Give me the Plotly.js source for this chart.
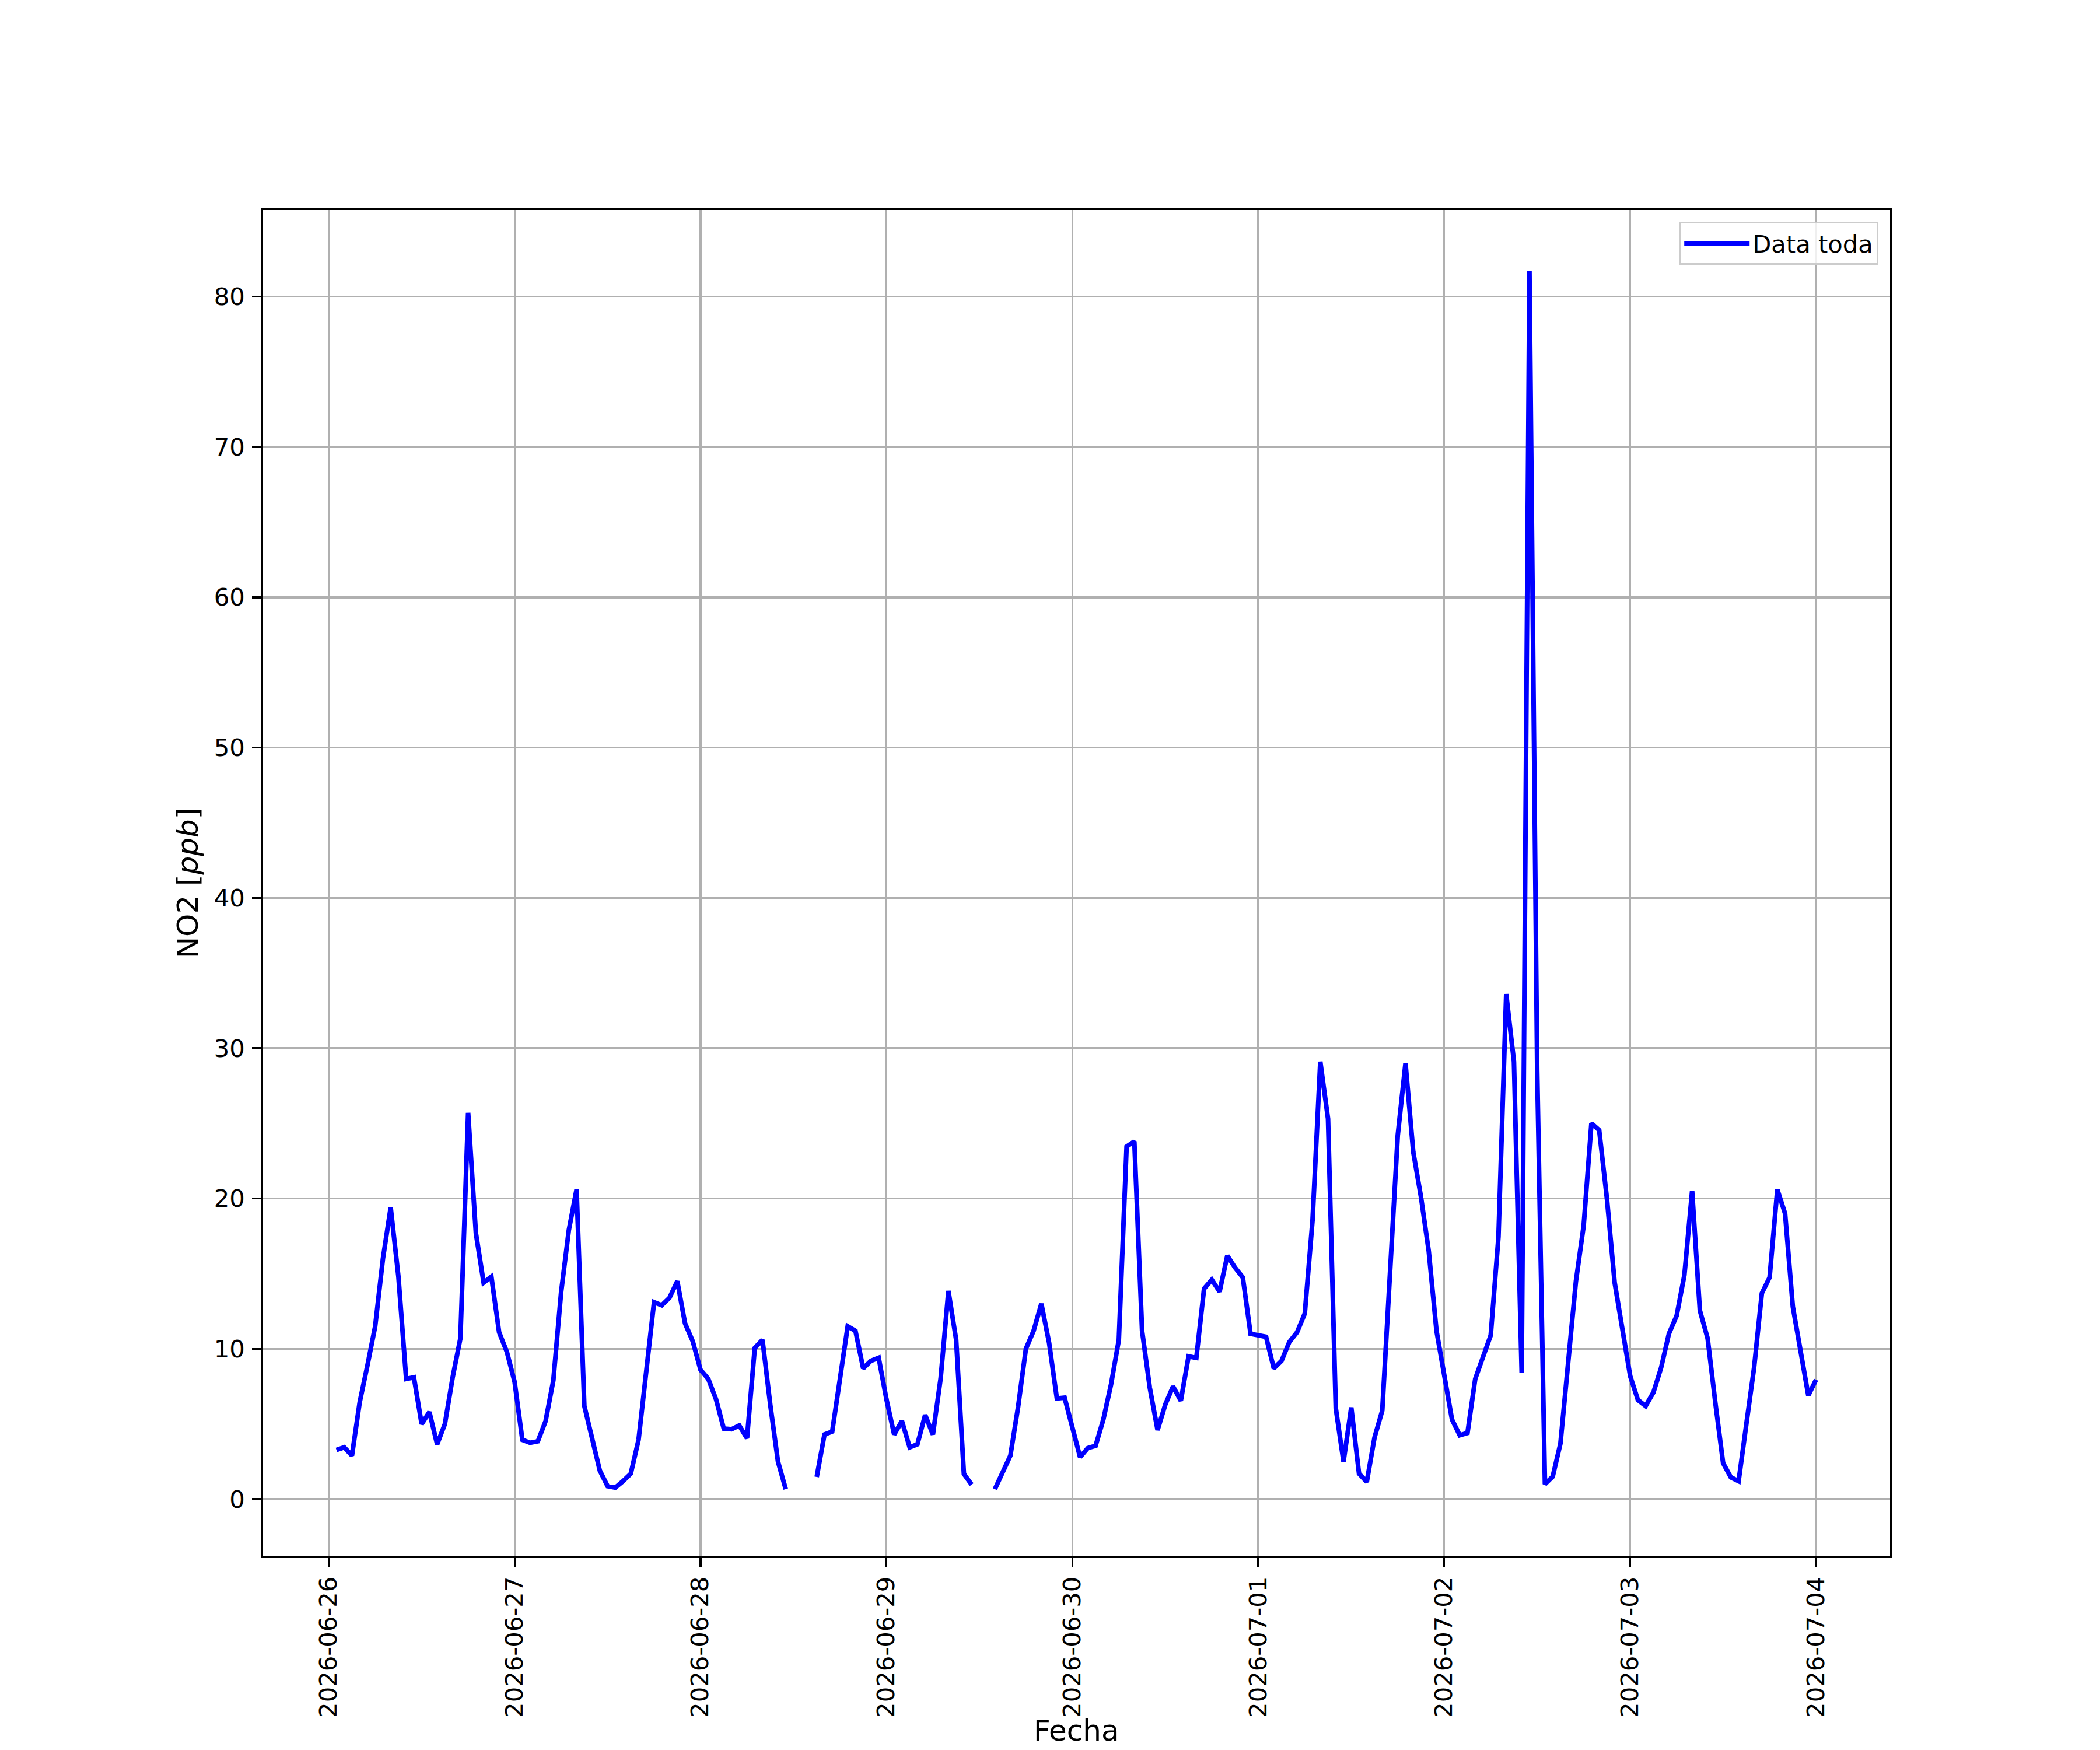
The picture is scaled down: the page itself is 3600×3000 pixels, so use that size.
<!DOCTYPE html>
<html>
<head>
<meta charset="utf-8">
<script src="https://cdn.plot.ly/plotly-3.0.1.min.js"></script>
<style>html,body{margin:0;padding:0;background:#fff;}#chart{width:3600px;height:3000px;}</style>
</head>
<body>
<div id="chart"></div>
<script>
// Hourly series start (first sample) and count
var startTime = "2026-06-26T01:00:00Z";
var seriesName = "Data toda";
var xTitle = "Fecha";
var yTitle = "NO2 [<i>ppb</i>]";
// NO2 values [ppb], hourly from 2026-06-26 01:00 to 2026-07-04 00:00 (null = missing)
var no2Day1 = [3.27,3.45,2.9,6.45,8.9,11.5,16.0,19.4,14.8,8.0,8.1,5.0,5.8,3.65,5.0,8.1,10.7,25.7,17.7,14.4,14.8,11.1,9.8,7.8];
var no2Day2 = [3.95,3.75,3.85,5.2,7.9,13.75,17.9,20.6,6.2,3.9,1.9,0.87,0.77,1.2,1.7,3.95,8.4,13.1,12.9,13.4,14.5,11.7,10.5,8.6];
var no2Day3 = [8.0,6.65,4.7,4.65,4.9,4.05,10.05,10.6,6.3,2.5,0.67,null,null,null,1.48,4.3,4.5,8.05,11.5,11.2,8.7,9.2,9.4,6.65];
var no2Day4 = [4.3,5.2,3.45,3.65,5.6,4.3,8.05,13.85,10.6,1.68,0.97,null,null,0.67,1.8,2.9,6.15,10.0,11.2,13.0,10.4,6.7,6.75,4.75];
var no2Day5 = [2.8,3.4,3.55,5.3,7.65,10.6,23.45,23.8,11.2,7.4,4.6,6.3,7.5,6.55,9.5,9.4,14.0,14.6,13.8,16.2,15.4,14.75,11.0,10.9];
var no2Day6 = [10.8,8.7,9.2,10.45,11.1,12.35,18.55,29.1,25.3,6.05,2.5,6.1,1.7,1.15,4.1,5.9,15.7,24.2,29.0,23.1,20.1,16.5,11.2,8.1];
var no2Day7 = [5.3,4.25,4.4,8.0,9.4,10.9,17.45,33.6,29.1,8.4,81.7,28.5,1.0,1.5,3.7,9.5,14.5,18.2,25.0,24.55,20.0,14.4,11.2,8.2];
var no2Day8 = [6.6,6.2,7.1,8.75,11.0,12.2,14.9,20.5,12.55,10.7,6.4,2.4,1.45,1.2,5.0,8.75,13.7,14.75,20.6,19.0,12.8,10.0,6.9,7.95];

var yTickVals = [0,10,20,30,40,50,60,70,80];
var xTickVals = ["2026-06-26","2026-06-27","2026-06-28","2026-06-29","2026-06-30","2026-07-01","2026-07-02","2026-07-03","2026-07-04"];
var xTickText = ["2026-06-26","2026-06-27","2026-06-28","2026-06-29","2026-06-30","2026-07-01","2026-07-02","2026-07-03","2026-07-04"];

var no2 = [].concat(no2Day1,no2Day2,no2Day3,no2Day4,no2Day5,no2Day6,no2Day7,no2Day8);
var t0 = Date.parse(startTime);
var times = no2.map(function(v,i){
  var d = new Date(t0 + i*3600000);
  return d.toISOString().slice(0,16).replace("T"," ");
});

var FONT = "DejaVu Sans, Liberation Sans, sans-serif";
var trace = {
  x: times, y: no2, type: "scatter", mode: "lines", name: seriesName,
  connectgaps: false,
  line: {color: "#0000ff", width: 8}
};
var axisCommon = {
  showline: true, mirror: true, linecolor: "#000", linewidth: 3.33,
  showgrid: true, gridcolor: "#b0b0b0", gridwidth: 3.33,
  ticks: "outside", ticklen: 14.6, tickwidth: 3.33, tickcolor: "#000",
  zeroline: false,
  tickfont: {family: FONT, size: 41.7, color: "#000"}
};
var layout = {
  width: 3600, height: 3000,
  margin: {l: 450, r: 360, t: 360, b: 332, pad: 0},
  paper_bgcolor: "#fff", plot_bgcolor: "#fff",
  font: {family: FONT, color: "#000"},
  showlegend: true,
  legend: {
    x: 0.9928, y: 0.9913, xanchor: "right", yanchor: "top",
    bgcolor: "rgba(255,255,255,0.8)", bordercolor: "#cccccc", borderwidth: 3.3,
    font: {family: FONT, size: 41.7, color: "#000"},
    itemwidth: 112
  },
  xaxis: Object.assign({}, axisCommon, {
    type: "date",
    range: ["2026-06-25 15:27", "2026-07-04 09:33"],
    tickmode: "array", tickvals: xTickVals, ticktext: xTickText,
    tickangle: -90
  }),
  yaxis: Object.assign({}, axisCommon, {
    range: [-3.8, 85.76],
    tickmode: "array", tickvals: yTickVals,
    ticklabelstandoff: 4,
    title: {text: yTitle, font: {family: FONT, size: 50, color: "#000"}, standoff: 12}
  }),
  annotations: [{
    text: xTitle, xref: "paper", yref: "paper", x: 0.5, y: -0.1162,
    xanchor: "center", yanchor: "top", showarrow: false,
    font: {family: FONT, size: 50, color: "#000"}
  }]
};
Plotly.newPlot("chart", [trace], layout, {displayModeBar: false, staticPlot: true});
</script>
</body>
</html>
